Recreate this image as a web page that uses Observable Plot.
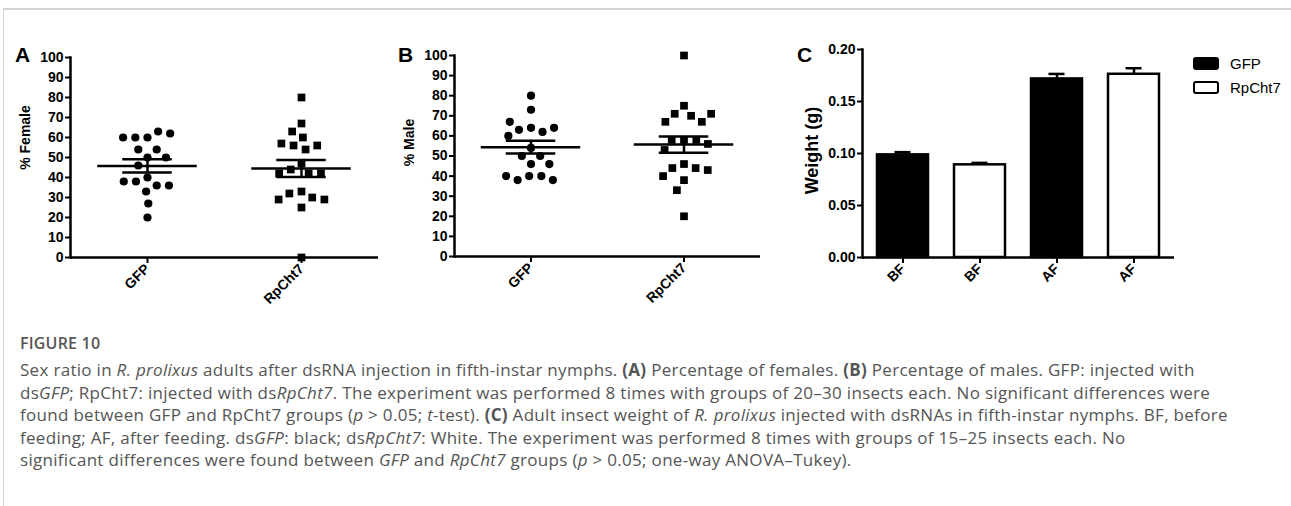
<!DOCTYPE html>
<html><head><meta charset="utf-8">
<script src="https://cdn.jsdelivr.net/npm/d3@7"></script>
<script src="https://cdn.jsdelivr.net/npm/@observablehq/plot@0.6"></script>
<style>
html,body{margin:0;padding:0;background:#fff;}
body{width:1291px;height:506px;position:relative;overflow:hidden;font-family:"Liberation Sans",Arial,sans-serif;}
#card{position:absolute;left:3px;top:8px;right:-5px;bottom:-5px;border-top:2px solid #d2d2d2;border-left:1px solid #d2d2d2;}
.panel{position:absolute;top:0;}
.panel svg{overflow:visible;}
.letter{position:absolute;top:44px;font:bold 21px "Liberation Sans",Arial,sans-serif;line-height:21px;color:#000;}
.leg{position:absolute;left:1193px;width:26px;height:13px;box-sizing:border-box;border:2.5px solid #000;border-radius:3px;}
.legt{position:absolute;left:1230px;font:15px "Liberation Sans",Arial,sans-serif;line-height:18px;color:#000;}
#fig{position:absolute;left:20px;top:332px;font:600 16px "Open Sans",sans-serif;line-height:22.5px;color:#555;letter-spacing:0.2px;}
#cap{position:absolute;left:20px;top:359px;font:17px "Open Sans",sans-serif;line-height:22.5px;color:#555;white-space:nowrap;letter-spacing:0.3px;}
#cap b{font-weight:700;}
</style></head>
<body>
<div id="card"></div>
<div id="root"></div>
<script>
// ---------- data ----------
const groups = ["GFP", "RpCht7"];
const femaleGFP = [60, 60, 63, 62, 60, 50, 54, 54, 50, 46, 40, 38, 36, 36, 38, 33, 27, 20];
const femaleRpCht7 = [80, 67, 63, 60, 56, 54, 56, 57, 47, 44, 42, 42, 42, 33, 32, 30, 29, 29, 25, 0];
const femaleMean = [45.8, 44.5];
const femaleSem = [3.35, 4.2];
const maleGFP = [80, 73, 64, 63, 62, 64, 67, 60, 54, 50, 50, 46, 46, 40, 40, 38, 38, 40];
const maleRpCht7 = [100, 75, 71, 70, 67, 67, 71, 58, 58, 58, 56, 53, 46, 44, 44, 43, 40, 38, 33, 20];
const maleMean = [54.4, 55.7];
const maleSem = [3.2, 4.05];
const percentTicks = [0, 10, 20, 30, 40, 50, 60, 70, 80, 90, 100];

const weightTimes = ["BF", "BF", "AF", "AF"];
const weightGroups = ["GFP", "RpCht7", "GFP", "RpCht7"];
const weightMeans = [0.0987, 0.0891, 0.1717, 0.1762];
const weightSems = [0.0026, 0.0019, 0.0048, 0.0058];
const weightTicks = [0, 0.05, 0.10, 0.15, 0.20];

const panelLetters = ["A", "B", "C"];
const yLabels = ["% Female", "% Male", "Weight (g)"];
const figureLabel = "FIGURE 10";
const captionLines = [
  'Sex ratio in <i>R. prolixus</i> adults after dsRNA injection in fifth-instar nymphs. <b>(A)</b> Percentage of females. <b>(B)</b> Percentage of males. GFP: injected with',
  'ds<i>GFP</i>; RpCht7: injected with ds<i>RpCht7</i>. The experiment was performed 8 times with groups of 20–30 insects each. No significant differences were',
  'found between GFP and RpCht7 groups (<i>p</i> &gt; 0.05; <i>t</i>-test). <b>(C)</b> Adult insect weight of <i>R. prolixus</i> injected with dsRNAs in fifth-instar nymphs. BF, before',
  'feeding; AF, after feeding. ds<i>GFP</i>: black; ds<i>RpCht7</i>: White. The experiment was performed 8 times with groups of 15–25 insects each. No',
  'significant differences were found between <i>GFP</i> and <i>RpCht7</i> groups (<i>p</i> &gt; 0.05; one-way ANOVA–Tukey).'
];

// ---------- helpers ----------
const FONT = '"Liberation Sans", Arial, sans-serif';
const svgStyle = {fontFamily: FONT, fontSize: "14px", fontWeight: "bold", color: "#000", background: "transparent", overflow: "visible"};
const root = document.getElementById("root");

function place(node, left, top) {
  const d = document.createElement("div");
  d.className = "panel";
  d.style.left = left + "px";
  d.style.top = top + "px";
  d.appendChild(node);
  root.appendChild(d);
}

function scatterPanel(values, means, sems, label, m, lab) {
  const W = 380, H = 310;
  const bw = (W - m.left - m.right) / groups.length;
  const data = groups.flatMap((g, i) => values[i].map(v => ({group: g, value: v})));
  const stats = groups.map((g, i) => ({group: g, mean: means[i], lo: means[i] - sems[i], hi: means[i] + sems[i]}));
  const meanInset = (bw - 100) / 2;
  const capInset = (bw - 50) / 2;
  return Plot.plot({
    width: W, height: H,
    marginLeft: m.left, marginRight: m.right, marginTop: m.top, marginBottom: m.bottom,
    style: svgStyle,
    fx: {domain: groups, padding: 0, axis: null, label: null},
    y: {domain: [0, 100], axis: null},
    marks: [
      Plot.ruleY([0], {strokeWidth: 2.5}),
      Plot.frame({anchor: "left", facet: "super", strokeWidth: 2.5}),
      Plot.axisY({ticks: percentTicks, tickSize: 5, tickPadding: 2, strokeWidth: 2, label: null}),
      Plot.axisFx({anchor: "bottom", tickRotate: -45, tickSize: 6, tickPadding: 3, strokeWidth: 2, label: null}),
      Plot.dot(data.filter(d => d.group === groups[0]),
        Plot.dodgeX({anchor: "middle", padding: 4}, {fx: "group", y: "value", r: 4.1, fill: "#000", symbol: "circle"})),
      Plot.dot(data.filter(d => d.group === groups[1]),
        Plot.dodgeX({anchor: "middle", padding: 3.6}, {fx: "group", y: "value", r: 4.35, fill: "#000", symbol: "square"})),
      Plot.ruleY(stats, {fx: "group", y: "mean", insetLeft: meanInset, insetRight: meanInset, strokeWidth: 2.5}),
      Plot.ruleY(stats, {fx: "group", y: "hi", insetLeft: capInset, insetRight: capInset, strokeWidth: 2.5}),
      Plot.ruleY(stats, {fx: "group", y: "lo", insetLeft: capInset, insetRight: capInset, strokeWidth: 2.5}),
      Plot.ruleX(stats, {fx: "group", x: null, y1: "lo", y2: "hi", strokeWidth: 2.5}),
      Plot.text([label], {fx: [groups[0]], frameAnchor: "left", textAnchor: "middle", lineAnchor: "middle",
        rotate: -90, dx: lab.dx, dy: lab.dy, fontSize: 14, fontWeight: "bold"})
    ]
  });
}

// ---------- panels A and B ----------
place(scatterPanel([femaleGFP, femaleRpCht7], femaleMean, femaleSem, yLabels[0],
  {left: 69, right: 2, top: 57, bottom: 53}, {dx: -45, dy: -20}), 0, 0);
place(scatterPanel([maleGFP, maleRpCht7], maleMean, maleSem, yLabels[1],
  {left: 73, right: 0, top: 55, bottom: 54}, {dx: -45, dy: -13.5}), 380, 0);

// ---------- panel C ----------
const cData = weightTimes.map((t, i) => ({key: weightGroups[i] + "|" + t, time: t, group: weightGroups[i],
  weight: weightMeans[i], hi: weightMeans[i] + weightSems[i]}));
const chartC = Plot.plot({
  width: 531, height: 310,
  marginLeft: 102, marginRight: 117, marginTop: 49, marginBottom: 53,
  style: svgStyle,
  x: {domain: cData.map(d => d.key), paddingInner: 0.333, paddingOuter: 0.1667, axis: null},
  y: {domain: [0, 0.2], axis: null},
  color: {domain: groups, range: ["#000", "#fff"]},
  marks: [
    Plot.barY(cData, {x: "key", y: "weight", fill: "group", stroke: "#000", strokeWidth: 2.5}),
    Plot.ruleX(cData, {x: "key", y1: "weight", y2: "hi", strokeWidth: 2.5}),
    Plot.tickY(cData, {x: "key", y: "hi", insetLeft: 17.5, insetRight: 17.5, strokeWidth: 2.5}),
    Plot.ruleY([0], {strokeWidth: 2.5}),
    Plot.frame({anchor: "left", strokeWidth: 2.5}),
    Plot.axisY({ticks: weightTicks, tickFormat: d3.format(".2f"), tickSize: 5, tickPadding: 2, strokeWidth: 2, label: null}),
    Plot.axisX({tickFormat: k => k.split("|")[1], tickRotate: -45, tickSize: 6, tickPadding: 3, strokeWidth: 2, label: null}),
    Plot.text([yLabels[2]], {frameAnchor: "left", textAnchor: "middle", lineAnchor: "middle",
      rotate: -90, dx: -50.5, dy: -3, fontSize: 18, fontWeight: "bold"})
  ]
});
place(chartC, 760, 0);

// ---------- panel letters ----------
[15, 398, 797].forEach((x, i) => {
  const s = document.createElement("div");
  s.className = "letter";
  s.style.left = x + "px";
  s.textContent = panelLetters[i];
  root.appendChild(s);
});

// ---------- legend ----------
const colorScale = chartC.scale("color");
groups.forEach((g, i) => {
  const b = document.createElement("div");
  b.className = "leg";
  b.style.top = (57 + i * 24) + "px";
  b.style.background = colorScale.apply(g);
  root.appendChild(b);
  const t = document.createElement("div");
  t.className = "legt";
  t.style.top = (57 + i * 24 - 2.5) + "px";
  t.textContent = g;
  root.appendChild(t);
});

// ---------- caption ----------
const fig = document.createElement("div");
fig.id = "fig";
fig.textContent = figureLabel;
root.appendChild(fig);
const cap = document.createElement("div");
cap.id = "cap";
cap.innerHTML = captionLines.join("<br>");
root.appendChild(cap);
</script>
</body></html>
